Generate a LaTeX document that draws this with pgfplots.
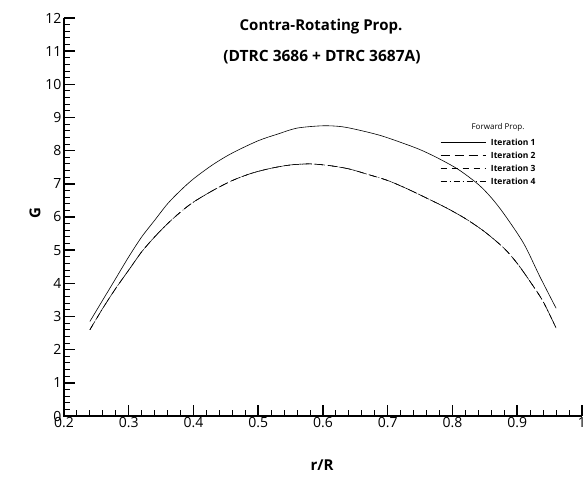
\documentclass[border=0pt]{standalone}
\usepackage{pgfplots}
\pgfplotsset{compat=1.18}
\usepackage{fontspec}
\setmainfont{Open Sans}
\begin{document}
\begin{tikzpicture}[x=1pt,y=1pt]
\begin{axis}[
  at={(64pt,62pt)}, anchor=origin,
  scale only axis, width=518pt, height=398pt,
  xmin=0.2, xmax=1, ymin=0, ymax=12,
  axis line style={draw=none},
  xtick={0.2,0.3,...,1.0}, ytick={0,1,...,12},
  xticklabels={0.2,0.3,0.4,0.5,0.6,0.7,0.8,0.9,1},
  minor xtick={0.22,0.24,...,0.99}, minor ytick={0.2,0.4,...,11.9},
  tick align=inside,
  xtick pos=bottom, ytick pos=left,
  tickwidth=11pt, subtickwidth=6pt,
  major tick style={draw=black, line width=1.5pt},
  minor tick style={draw=black, line width=1pt},
  /pgf/number format/assume math mode=true,
  tick label style={font=\fontsize{14}{15}\selectfont},
  xticklabel style={yshift=2pt},
  yticklabel style={xshift=1pt},
  legend style={at={(axis cs:0.781,8.38)}, anchor=north west, draw=none, fill=none,
    font=\fontsize{8.5}{9}\selectfont\bfseries, inner sep=0pt, row sep=5pt,
    nodes={inner sep=1pt, text height=6pt, text depth=0pt},
    /tikz/every odd column/.append style={column sep=4pt}},
  legend cell align=left,
  legend image code/.code={\draw[#1] (0pt,0pt) -- (45pt,0pt);},
  clip=false,
]
\draw[black, line width=1.5pt] (rel axis cs:0,1) -- (rel axis cs:0,0) -- (rel axis cs:1,0);
\addplot[black, line width=0.6pt, smooth] coordinates {
(0.24,2.85)(0.26,3.5)(0.28,4.15)(0.30,4.8)(0.32,5.4)(0.34,5.9)(0.36,6.4)(0.38,6.8)
(0.40,7.15)(0.43,7.58)(0.46,7.93)(0.50,8.3)(0.53,8.5)(0.56,8.68)(0.60,8.75)(0.63,8.72)
(0.66,8.6)(0.69,8.45)(0.72,8.25)(0.75,8.03)(0.78,7.75)(0.81,7.42)(0.84,6.98)(0.86,6.58)
(0.88,6.08)(0.91,5.2)(0.935,4.2)(0.96,3.25)};
\addlegendentry{Iteration 1}
\addplot[black, line width=0.6pt, smooth, dash pattern=on 9pt off 5pt] coordinates {
(0.24,2.6)(0.26,3.25)(0.28,3.85)(0.30,4.4)(0.32,4.95)(0.34,5.4)(0.36,5.8)(0.38,6.15)
(0.40,6.45)(0.43,6.8)(0.46,7.1)(0.49,7.32)(0.52,7.47)(0.55,7.57)(0.58,7.6)(0.61,7.55)
(0.64,7.45)(0.67,7.28)(0.70,7.1)(0.73,6.85)(0.76,6.57)(0.79,6.28)(0.82,5.95)(0.85,5.55)
(0.88,5.05)(0.90,4.6)(0.92,4.05)(0.94,3.45)(0.96,2.65)};
\addlegendentry{Iteration 2}
\addplot[black, line width=0.5pt, smooth, dash pattern=on 6pt off 5pt] coordinates {
(0.24,2.6)(0.26,3.25)(0.28,3.85)(0.30,4.4)(0.32,4.95)(0.34,5.4)(0.36,5.8)(0.38,6.15)
(0.40,6.45)(0.43,6.8)(0.46,7.1)(0.49,7.32)(0.52,7.47)(0.55,7.57)(0.58,7.6)(0.61,7.55)
(0.64,7.45)(0.67,7.28)(0.70,7.1)(0.73,6.85)(0.76,6.57)(0.79,6.28)(0.82,5.95)(0.85,5.55)
(0.88,5.05)(0.90,4.6)(0.92,4.05)(0.94,3.45)(0.96,2.65)};
\addlegendentry{Iteration 3}
\addplot[black, line width=0.5pt, smooth, dash pattern=on 6pt off 3pt on 1pt off 3pt] coordinates {
(0.24,2.6)(0.26,3.25)(0.28,3.85)(0.30,4.4)(0.32,4.95)(0.34,5.4)(0.36,5.8)(0.38,6.15)
(0.40,6.45)(0.43,6.8)(0.46,7.1)(0.49,7.32)(0.52,7.47)(0.55,7.57)(0.58,7.6)(0.61,7.55)
(0.64,7.45)(0.67,7.28)(0.70,7.1)(0.73,6.85)(0.76,6.57)(0.79,6.28)(0.82,5.95)(0.85,5.55)
(0.88,5.05)(0.90,4.6)(0.92,4.05)(0.94,3.45)(0.96,2.65)};
\addlegendentry{Iteration 4}
\end{axis}
\node[font=\fontsize{15}{16}\selectfont\bfseries] at (321pt,451pt) {Contra-Rotating Prop.};
\node[font=\fontsize{15.5}{17}\selectfont\bfseries] at (322pt,421pt) {(DTRC 3686 + DTRC 3687A)};
\node[font=\fontsize{8}{9}\selectfont] at (498pt,351pt) {Forward Prop.};
\node[font=\fontsize{15}{16}\selectfont\bfseries, rotate=90] at (35pt,265pt) {G};
\node[font=\fontsize{15}{16}\selectfont\bfseries] at (322pt,13pt) {r/R};
\pgfresetboundingbox
\useasboundingbox (0pt,0pt) rectangle (587pt,478pt);
\end{tikzpicture}
\end{document}
